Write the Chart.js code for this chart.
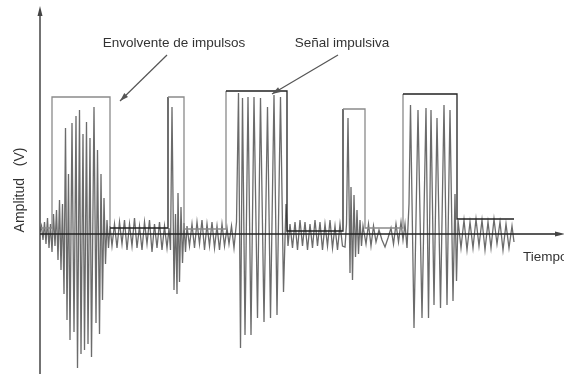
<!DOCTYPE html>
<html>
<head>
<meta charset="utf-8">
<script src="https://cdn.jsdelivr.net/npm/chart.js@4.4.0/dist/chart.umd.min.js"></script>
<style>
    html, body { margin: 0; padding: 0; background: #fff; }
    #impulse-chart { display: block; }
</style>
</head>
<body>
<canvas id="impulse-chart" width="564" height="374"></canvas>
<script>
"use strict";

//=> Data (tiempo en unidades arbitrarias, amplitud arbitraria)
var tEnvolvente = [0, 12, 70, 128, 144, 186, 247, 303, 325, 363, 417, 474];
var aEnvolvente = [6, 137, 6, 137, 5, 143, 3, 125, 6, 140, 15, 15];

var tSenal = [
    0, 1.5, 3, 4.5, 6, 7.5, 9, 10.5, 12, 13.5, 15, 16.5, 18, 19.5, 21, 22.5, 24, 25.5, 27, 28.5,
    30, 32, 34, 36, 37.5, 39.5, 41, 43, 44.5, 46.5, 48, 50, 51.5, 54, 56, 57.5, 59.5, 61, 62.5, 64,
    65.5, 67, 68.5, 70, 72, 74.5, 77, 79.5, 82, 84.5, 87, 89.5, 92, 94.5, 97, 99.5, 102, 104.5, 107, 109.5,
    112, 114.5, 117, 119.5, 122, 124.5, 127, 129, 130.5, 132, 134, 135.5, 137, 138, 139.5, 141, 142.5, 144, 145.5, 147,
    149.5, 152, 154.5, 157, 159.5, 162, 164.5, 167, 169.5, 172, 174.5, 177, 179.5, 182, 184.5, 187, 189, 191.5, 194, 196.5,
    198.5, 200.5, 202.5, 205, 208, 211, 214, 217.5, 220.5, 224, 227.5, 230.5, 234, 237, 240.5, 243.5, 246, 248, 250, 252.5,
    255, 257.5, 260, 262.5, 265, 267.5, 270, 272.5, 275, 277.5, 280, 282.5, 285, 287.5, 290, 292.5, 295, 297.5, 300, 302.5,
    305, 306.5, 308, 310, 311, 312.5, 314, 315.5, 317, 318.5, 320, 321.5, 323, 326, 328.5, 331, 333.5, 336, 339, 342,
    345, 348, 351, 353.5, 356, 358.5, 361, 363, 365, 367, 369, 370.5, 374, 378, 382, 386, 388.5, 391, 394, 397,
    400.5, 404, 407, 410, 413, 415, 416.5, 418, 421, 424, 427, 430, 433, 436, 439, 442, 445, 448, 451, 454,
    457, 460, 463, 466, 469, 472, 474
];
var aSenal = [
    2, 8, -6, 12, -10, 16, -14, 10, -18, 20, -12, 24, -26, 34, -36, 30, -60, 106, -86, 60,
    -106, 111, -98, 118, -134, 124, -120, 100, -116, 112, -110, 96, -123, 127, -89, 84, -100, 60, -66, 36,
    -30, 14, -14, 8, -12, 10, -14, 12, -10, 14, -16, 10, -12, 16, -14, 8, -16, 12, -10, 14,
    -18, 10, -14, 12, -16, 8, -14, 6, -16, 127, -56, 20, -60, 41, -48, 27, -29, 11, -18, 8,
    -12, 10, -14, 12, -10, 14, -16, 10, -12, 12, -14, 8, -16, 10, -12, 6, -10, 8, -14, 12,
    141, -114, 136, -101, 137, -101, 137, -84, 136, -88, 127, -84, 139, -81, 137, -58, 30, -12, 10, -14,
    12, -16, 14, -12, 12, -16, 10, -14, 14, -12, 12, -16, 10, -12, 14, -14, 8, -16, 10, -12,
    -13, 10, 116, -39, 47, -46, 39, -23, 24, -20, 14, -12, 8, -10, 10, -12, 8, -8, 4, -6,
    -13, -4, 6, -10, 10, -8, 12, -6, 10, -14, 30, 129, -94, 124, -84, 126, -84, 124, -71, 116,
    -74, 129, -71, 124, -67, 40, -47, 14, -14, 14, -16, 12, -14, 15, -12, 14, -16, 12, -14, 15,
    -10, 12, -16, 10, -14, 8, -8
];

// tramos de la envolvente dibujados en gris claro (impulsos 1, 2 y 4)
var tramosClaros = [0, 1, 3, 4, 7, 8];

var ImpulseChart = function () {

    var toPoints = function (xs, ys) {
        return xs.map(function (x, i) { return { x: x, y: ys[i] }; });
    };

    //=> Axes with arrows + labels
    var axesPlugin = {
        id: 'axesArrows',
        afterDatasetsDraw: function (chart) {
            var ctx = chart.ctx;
            var xs = chart.scales.x, ys = chart.scales.y;
            var x0 = xs.getPixelForValue(0);
            var y0 = ys.getPixelForValue(0);
            var px = function (t) { return xs.getPixelForValue(t); };
            var py = function (a) { return ys.getPixelForValue(a); };

            ctx.save();
            ctx.strokeStyle = '#444';
            ctx.fillStyle = '#444';
            ctx.lineWidth = 1.5;

            // eje vertical
            ctx.beginPath();
            ctx.moveTo(x0, chart.height);
            ctx.lineTo(x0, 12);
            ctx.stroke();
            ctx.beginPath();
            ctx.moveTo(x0, 6);
            ctx.lineTo(x0 - 2.5, 16);
            ctx.lineTo(x0 + 2.5, 16);
            ctx.closePath();
            ctx.fill();

            // eje horizontal
            ctx.strokeStyle = '#222';
            ctx.beginPath();
            ctx.moveTo(x0, y0);
            ctx.lineTo(chart.width - 4, y0);
            ctx.stroke();
            ctx.beginPath();
            ctx.moveTo(chart.width + 1, y0);
            ctx.lineTo(chart.width - 9, y0 - 2.5);
            ctx.lineTo(chart.width - 9, y0 + 2.5);
            ctx.closePath();
            ctx.fill();

            // flechas de anotacion
            var arrow = function (t1, a1, t2, a2) {
                var xa = px(t1), ya = py(a1), xb = px(t2), yb = py(a2);
                var ang = Math.atan2(yb - ya, xb - xa);
                ctx.strokeStyle = '#555';
                ctx.fillStyle = '#555';
                ctx.lineWidth = 1.2;
                ctx.beginPath();
                ctx.moveTo(xa, ya);
                ctx.lineTo(xb, yb);
                ctx.stroke();
                ctx.beginPath();
                ctx.moveTo(xb, yb);
                ctx.lineTo(xb - 9 * Math.cos(ang - 0.3), yb - 9 * Math.sin(ang - 0.3));
                ctx.lineTo(xb - 9 * Math.cos(ang + 0.3), yb - 9 * Math.sin(ang + 0.3));
                ctx.closePath();
                ctx.fill();
            };
            arrow(127, 179, 80, 133);
            arrow(298, 179, 232, 140);

            // textos
            ctx.fillStyle = '#333';
            ctx.font = '13.5px "Liberation Sans", Arial, sans-serif';
            ctx.textBaseline = 'middle';
            ctx.textAlign = 'center';
            ctx.fillText('Envolvente de impulsos', px(134), py(191));
            ctx.fillText('Señal impulsiva', px(302), py(191));
            ctx.textAlign = 'left';
            ctx.fillText('Tiempo', px(483), py(-23));

            ctx.save();
            ctx.translate(20, py(44));
            ctx.rotate(-Math.PI / 2);
            ctx.textAlign = 'center';
            ctx.font = '14px "Liberation Sans", Arial, sans-serif';
            ctx.fillText('Amplitud   (V)', 0, 0);
            ctx.restore();

            ctx.restore();
        }
    };

    var initChart = function () {
        var ctx = document.getElementById('impulse-chart').getContext('2d');
        var myChart = new Chart(ctx, {
            type: 'line',
            data: {
                datasets: [{
                    label: 'Envolvente de impulsos',
                    data: toPoints(tEnvolvente, aEnvolvente),
                    stepped: true,
                    borderColor: '#222',
                    borderWidth: 1.3,
                    pointRadius: 0,
                    fill: false,
                    segment: {
                        borderColor: function (c) {
                            return tramosClaros.indexOf(c.p0DataIndex) >= 0 ? '#8a8a8a' : '#222';
                        }
                    }
                }, {
                    label: 'Señal impulsiva',
                    data: toPoints(tSenal, aSenal),
                    borderColor: 'rgba(70,70,70,0.8)',
                    borderWidth: 1.3,
                    pointRadius: 0,
                    tension: 0,
                    fill: false
                }]
            },
            options: {
                responsive: false,
                animation: false,
                layout: { padding: { left: 40, right: 4, top: 8, bottom: 0 } },
                plugins: {
                    legend: { display: false },
                    tooltip: { enabled: false }
                },
                scales: {
                    x: { type: 'linear', min: 0, max: 520, display: false },
                    y: { min: -140, max: 226, display: false }
                }
            },
            plugins: [axesPlugin]
        });
    };

    return {
        init: function () {
            initChart();
        }
    };
}();

ImpulseChart.init();
</script>
</body>
</html>
